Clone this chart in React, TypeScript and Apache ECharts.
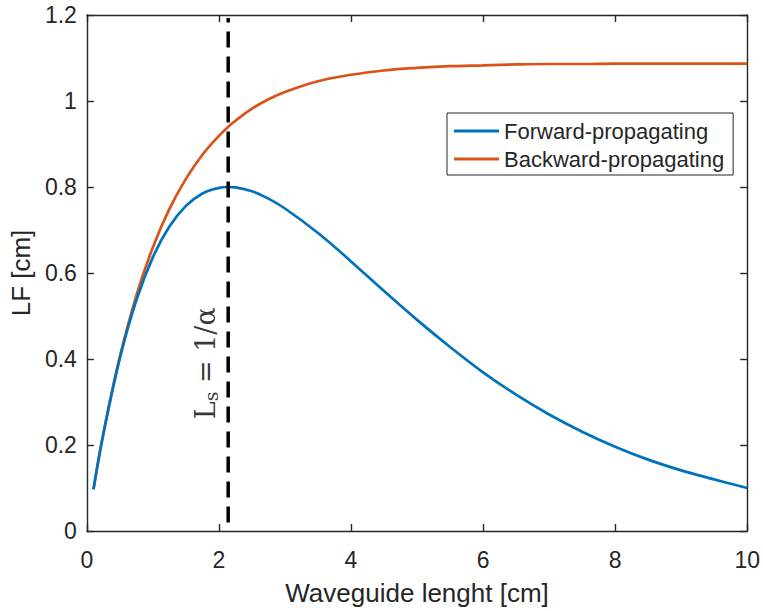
import React, { useEffect, useRef } from 'react';
import * as echarts from 'echarts';

const lengths = [0.1, 0.25, 0.5, 0.75, 1, 1.25, 1.5, 1.75, 2, 2.14, 2.25, 2.5, 2.75, 3, 3.5, 4, 4.5, 5, 5.5, 6, 6.5, 7, 7.5, 8, 8.5, 9, 9.5, 10];
const forward = [0.097, 0.226, 0.402, 0.537, 0.637, 0.708, 0.756, 0.785, 0.798, 0.8, 0.799, 0.79, 0.773, 0.75, 0.693, 0.627, 0.558, 0.491, 0.428, 0.369, 0.317, 0.271, 0.231, 0.196, 0.166, 0.141, 0.12, 0.1];
const backward = [0.097, 0.227, 0.406, 0.548, 0.66, 0.749, 0.819, 0.875, 0.919, 0.94, 0.954, 0.982, 1.004, 1.021, 1.046, 1.061, 1.071, 1.077, 1.081, 1.083, 1.085, 1.086, 1.086, 1.087, 1.087, 1.087, 1.087, 1.087];
const seriesNames = ['Forward-propagating', 'Backward-propagating'];
const seriesColors = ['#0072BD', '#D95319'];
const lsValue = 2.14;
const lsLineY = [0.02, 1.193];
const annotationPoint = [1.79, 0.39];

const AX = '#262626';
const SANS = 'Liberation Sans, Arial, sans-serif';

export default function App() {
  const ref = useRef<HTMLDivElement>(null);
  useEffect(() => {
    if (!ref.current) return;
    const chart = echarts.init(ref.current, undefined, { renderer: 'svg' });
    const axisLine = { show: true, onZero: false, lineStyle: { color: AX, width: 1.4 } };
    const axisTick = { show: true, inside: true, length: 7, lineStyle: { color: AX, width: 1.4 } };
    chart.setOption({
      animation: false,
      backgroundColor: '#fff',
      grid: { left: 83, right: 13, top: 15, bottom: 74, containLabel: false },
      legend: {
        data: seriesNames,
        orient: 'vertical',
        left: 447,
        top: 113,
        icon: 'rect',
        itemWidth: 45,
        itemHeight: 3,
        itemGap: 6,
        padding: [7, 9, 5, 7],
        borderColor: AX,
        borderWidth: 1,
        backgroundColor: '#fff',
        textStyle: { fontSize: 22, color: AX, fontFamily: SANS, lineHeight: 22 },
      },
      xAxis: [
        {
          type: 'value', min: 0, max: 10, interval: 2, position: 'bottom',
          axisLine, axisTick,
          axisLabel: { margin: 17, fontSize: 23, color: AX, fontFamily: SANS },
          splitLine: { show: false },
          name: 'Waveguide lenght [cm]', nameLocation: 'middle', nameGap: 49,
          nameTextStyle: { fontSize: 26, color: AX, fontFamily: SANS },
        },
        {
          type: 'value', min: 0, max: 10, interval: 2, position: 'top',
          axisLine, axisTick, axisLabel: { show: false }, splitLine: { show: false },
        },
      ],
      yAxis: [
        {
          type: 'value', min: 0, max: 1.2, interval: 0.2, position: 'left',
          axisLine, axisTick,
          axisLabel: { margin: 10, fontSize: 23, color: AX, fontFamily: SANS },
          splitLine: { show: false },
          name: 'LF [cm]', nameLocation: 'middle', nameGap: 48,
          nameTextStyle: { fontSize: 26, color: AX, fontFamily: SANS },
        },
        {
          type: 'value', min: 0, max: 1.2, interval: 0.2, position: 'right',
          axisLine, axisTick, axisLabel: { show: false }, splitLine: { show: false },
        },
      ],
      series: [
        {
          name: seriesNames[0], type: 'line', smooth: 0.4, showSymbol: false, symbol: 'none',
          color: seriesColors[0],
          lineStyle: { color: seriesColors[0], width: 2.7 },
          data: lengths.map((x, i) => [x, forward[i]]),
          z: 3,
        },
        {
          name: seriesNames[1], type: 'line', smooth: 0.4, showSymbol: false, symbol: 'none',
          color: seriesColors[1],
          lineStyle: { color: seriesColors[1], width: 2.7 },
          data: lengths.map((x, i) => [x, backward[i]]),
          z: 2,
        },
        {
          name: 'Ls', type: 'line', symbol: 'none', showSymbol: false,
          lineStyle: { color: '#000', width: 3.5, type: [16, 9] },
          data: lsLineY.map((y) => [lsValue, y]),
          z: 4,
        },
        {
          name: 'annotation', type: 'scatter', symbolSize: 0,
          data: [annotationPoint],
          label: {
            show: true, position: 'inside', rotate: 90,
            formatter: '{l|L}{s|s}{l| = 1/α}',
            rich: {
              l: { fontFamily: 'DejaVu Serif', fontSize: 27, color: '#000', lineHeight: 30 },
              s: { fontFamily: 'DejaVu Serif', fontSize: 19, color: '#000', lineHeight: 22, verticalAlign: 'bottom' },
            },
          },
          z: 5,
        },
      ],
    });
    return () => chart.dispose();
  }, []);
  return <div ref={ref} style={{ position: 'fixed', left: 0, top: 0, width: 763, height: 611 }} />;
}
